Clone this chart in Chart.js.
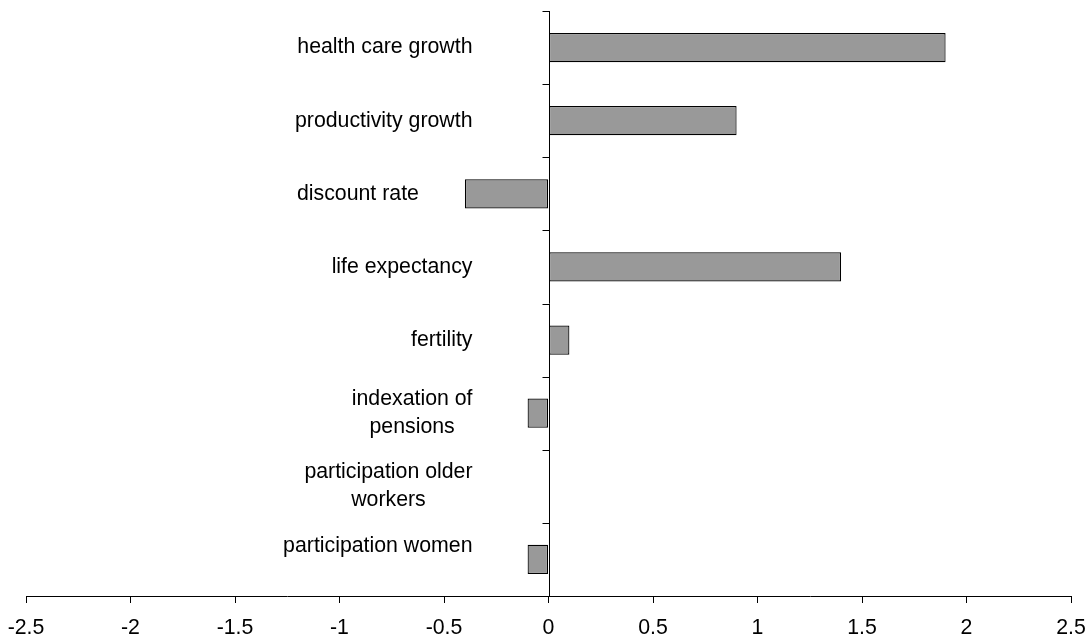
<!DOCTYPE html>
<html>
<head>
<meta charset="utf-8">
<script src="https://cdn.jsdelivr.net/npm/chart.js@4/dist/chart.umd.min.js"></script>
<style>
  body { margin: 0; background: #fff; }
  #wrap { width: 1089px; height: 639px; }
</style>
</head>
<body>
<div id="wrap"><canvas id="sensChart"></canvas></div>
<script>
// 카테고리 (여러 줄 라벨은 배열로)
const categories = [
  ["health care growth"],
  ["productivity growth"],
  ["discount rate"],
  ["life expectancy"],
  ["fertility"],
  ["indexation of", "pensions"],
  ["participation older", "workers"],
  ["participation women", ""]
];
const values = [1.9, 0.9, -0.4, 1.4, 0.1, -0.1, 0, -0.1];
const xMin = -2.5;
const xMax = 2.5;
const xStep = 0.5;

const FONT = '"Liberation Sans", Arial, Helvetica, sans-serif';
const FONT_SIZE = 21.3;

// y축 선, 눈금, 카테고리 라벨 그리기
const yAxisPlugin = {
  id: "yAxisAtZero",
  afterDatasetsDraw(chart) {
    const ctx = chart.ctx;
    const xs = chart.scales.x;
    const ys = chart.scales.y;
    const area = chart.chartArea;
    const x0 = Math.round(xs.getPixelForValue(0)) + 0.5;
    const half = (ys.getPixelForValue(1) - ys.getPixelForValue(0)) / 2;

    ctx.save();
    ctx.strokeStyle = "#000";
    ctx.lineWidth = 1;
    ctx.beginPath();
    ctx.moveTo(x0, area.top);
    ctx.lineTo(x0, area.bottom);
    for (let i = 0; i <= categories.length; i++) {
      const y = Math.round(ys.getPixelForValue(i) - half) + 0.5;
      ctx.moveTo(x0 - 7, y);
      ctx.lineTo(x0, y);
    }
    ctx.stroke();

    ctx.font = FONT_SIZE + "px " + FONT;
    ctx.fillStyle = "#000";
    ctx.textAlign = "center";
    ctx.textBaseline = "middle";
    const lineH = 27.5;
    categories.forEach((lines, i) => {
      const cy = ys.getPixelForValue(i);
      // 음수 막대가 길면 라벨을 막대 왼쪽으로
      const barLeft = xs.getPixelForValue(Math.min(values[i], 0));
      const right = Math.min(x0 - 77, barLeft - 46);
      const w = Math.max(...lines.map(l => ctx.measureText(l).width));
      const cx = right - w / 2;
      const top = cy - (lines.length - 1) * lineH / 2;
      lines.forEach((l, k) => ctx.fillText(l, cx, top + k * lineH));
    });
    ctx.restore();
  }
};

const ctx = document.getElementById("sensChart").getContext("2d");
new Chart(ctx, {
  type: "bar",
  data: {
    labels: categories,
    datasets: [{
      data: values,
      backgroundColor: "#999999",
      borderColor: "#000",
      borderWidth: 1.2,
      borderSkipped: false,
      barPercentage: 0.4,
      categoryPercentage: 1
    }]
  },
  options: {
    indexAxis: "y",
    responsive: true,
    maintainAspectRatio: false,
    animation: false,
    layout: { padding: { left: 26, right: 18, top: 11, bottom: 0 } },
    plugins: {
      legend: { display: false },
      tooltip: { enabled: false }
    },
    scales: {
      x: {
        min: xMin,
        max: xMax,
        afterFit(scale) {
          scale.height = 43;
          scale.paddingLeft = 0;
          scale.paddingRight = 0;
        },
        grid: {
          drawOnChartArea: false,
          drawTicks: true,
          tickLength: 7,
          color: "#000"
        },
        border: { color: "#000", width: 1 },
        ticks: {
          stepSize: xStep,
          padding: 14,
          color: "#000",
          maxRotation: 0,
          autoSkip: false,
          font: { family: FONT, size: FONT_SIZE, lineHeight: 1 },
          callback: v => String(Math.round(v * 10) / 10)
        }
      },
      y: {
        display: false
      }
    }
  },
  plugins: [yAxisPlugin]
});
</script>
</body>
</html>
